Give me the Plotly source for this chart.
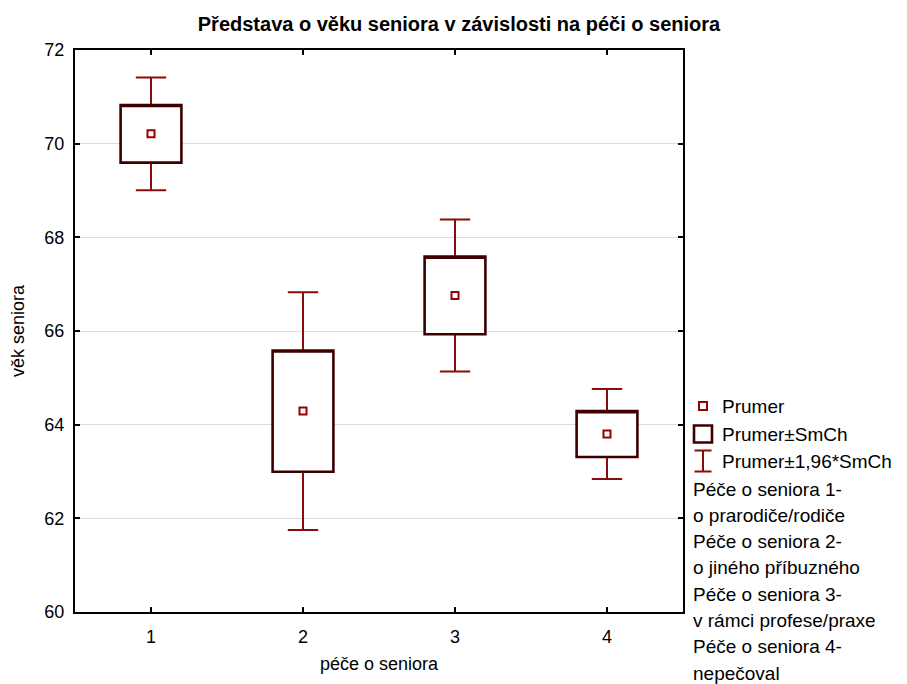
import plotly.graph_objects as go

# Group means and standard errors of the perceived senior age
categories = [1, 2, 3, 4]
mean_age = [70.21, 64.29, 66.76, 63.80]
std_err = [0.615, 1.295, 0.828, 0.490]
y_ticks = [60, 62, 64, 66, 68, 70, 72]
x_ticks = [1, 2, 3, 4]

legend_labels = ["Prumer", "Prumer±SmCh", "Prumer±1,96*SmCh"]
group_labels = [
    "Péče o seniora 1-",
    "o prarodiče/rodiče",
    "Péče o seniora 2-",
    "o jiného příbuzného",
    "Péče o seniora 3-",
    "v rámci profese/praxe",
    "Péče o seniora 4-",
    "nepečoval",
]

se_lo = [m - s for m, s in zip(mean_age, std_err)]
se_hi = [m + s for m, s in zip(mean_age, std_err)]
ci_lo = [m - 1.96 * s for m, s in zip(mean_age, std_err)]
ci_hi = [m + 1.96 * s for m, s in zip(mean_age, std_err)]

W, H = 907, 684
ML, MR, MT, MB = 75, 224, 50, 72
PW, PH = W - ML - MR, H - MT - MB

BOX_COLOR = "#3d0000"
WHISKER_COLOR = "#8b0a0a"
MEAN_COLOR = "#990000"
FONT = "Liberation Sans, Arial, sans-serif"


def px_x(px):
    return (px - ML) / PW


def px_y(py):
    return (H - MB - py) / PH


fig = go.Figure()

# whiskers: mean ± 1.96*SE with caps
fig.add_trace(go.Box(
    x=categories, q1=mean_age, median=mean_age, q3=mean_age,
    lowerfence=ci_lo, upperfence=ci_hi,
    width=0.4, whiskerwidth=0.5, boxpoints=False,
    line=dict(color=WHISKER_COLOR, width=2),
    fillcolor="white", showlegend=False, hoverinfo="skip",
))

# boxes: mean ± SE
fig.add_trace(go.Box(
    x=categories, q1=se_lo, median=se_hi, q3=se_hi,
    lowerfence=se_lo, upperfence=se_hi,
    width=0.4, whiskerwidth=0, boxpoints=False,
    line=dict(color=BOX_COLOR, width=2.6),
    fillcolor="white", showlegend=False, hoverinfo="skip",
))

# group means
fig.add_trace(go.Scatter(
    x=categories, y=mean_age, mode="markers",
    marker=dict(symbol="square", size=7, color="white",
                line=dict(color=MEAN_COLOR, width=2)),
    showlegend=False, hoverinfo="skip",
))

shapes = []
annotations = []

# legend entries with their symbols
LEG_TEXT_X = 720
leg_y = [406, 434, 461]
for txt, y in zip(legend_labels, leg_y):
    annotations.append(dict(
        x=px_x(LEG_TEXT_X), y=px_y(y), xref="paper", yref="paper",
        text=txt, showarrow=False, xanchor="left", yanchor="middle",
        font=dict(family=FONT, size=19, color="black"),
    ))

cx = 703
shapes.append(dict(type="rect", xref="paper", yref="paper",
                   x0=px_x(cx - 4), x1=px_x(cx + 4), y0=px_y(leg_y[0] - 4), y1=px_y(leg_y[0] + 4),
                   line=dict(color=MEAN_COLOR, width=2), fillcolor="white"))
shapes.append(dict(type="rect", xref="paper", yref="paper",
                   x0=px_x(cx - 9), x1=px_x(cx + 9), y0=px_y(leg_y[1] - 8.5), y1=px_y(leg_y[1] + 8.5),
                   line=dict(color=BOX_COLOR, width=2.6), fillcolor="white"))
for d in (-10.5, 10.5):
    shapes.append(dict(type="line", xref="paper", yref="paper",
                       x0=px_x(cx - 8.5), x1=px_x(cx + 8.5), y0=px_y(leg_y[2] + d), y1=px_y(leg_y[2] + d),
                       line=dict(color=WHISKER_COLOR, width=2)))
shapes.append(dict(type="line", xref="paper", yref="paper",
                   x0=px_x(cx), x1=px_x(cx), y0=px_y(leg_y[2] - 10.5), y1=px_y(leg_y[2] + 10.5),
                   line=dict(color=WHISKER_COLOR, width=2)))

# category descriptions below the legend
for i, txt in enumerate(group_labels):
    annotations.append(dict(
        x=px_x(691), y=px_y(489 + 26.3 * i), xref="paper", yref="paper",
        text=txt, showarrow=False, xanchor="left", yanchor="middle",
        font=dict(family=FONT, size=19, color="black"),
    ))

fig.update_layout(
    width=W, height=H,
    margin=dict(l=ML, r=MR, t=MT, b=MB),
    paper_bgcolor="white", plot_bgcolor="white",
    boxmode="overlay",
    font=dict(family=FONT, size=18, color="black"),
    title=dict(
        text="<b>Představa o věku seniora v závislosti na péči o seniora</b>",
        x=459 / W, xref="container", xanchor="center",
        y=1 - 24 / H, yref="container", yanchor="middle",
        font=dict(family=FONT, size=20, color="black"),
    ),
    xaxis=dict(
        range=[0.5, 4.5], tickmode="array", tickvals=x_ticks,
        ticktext=[str(v) for v in x_ticks],
        ticks="inside", ticklen=5, tickwidth=1.5, tickcolor="black",
        showline=True, linecolor="black", linewidth=2, mirror="ticks",
        showgrid=False, zeroline=False, ticklabelstandoff=7,
        tickfont=dict(family=FONT, size=18),
        title=dict(text="péče o seniora", standoff=12,
                   font=dict(family=FONT, size=18)),
    ),
    yaxis=dict(
        range=[60, 72], tickmode="array", tickvals=y_ticks,
        ticks="inside", ticklen=5, tickwidth=1.5, tickcolor="black",
        showline=True, linecolor="black", linewidth=2, mirror="ticks",
        showgrid=True, gridcolor="#dcdcdc", gridwidth=1,
        zeroline=False, ticklabelstandoff=5,
        tickfont=dict(family=FONT, size=18),
        title=dict(text="věk seniora", standoff=15,
                   font=dict(family=FONT, size=18)),
    ),
    shapes=shapes,
    annotations=annotations,
)

fig.write_html("out.html")
